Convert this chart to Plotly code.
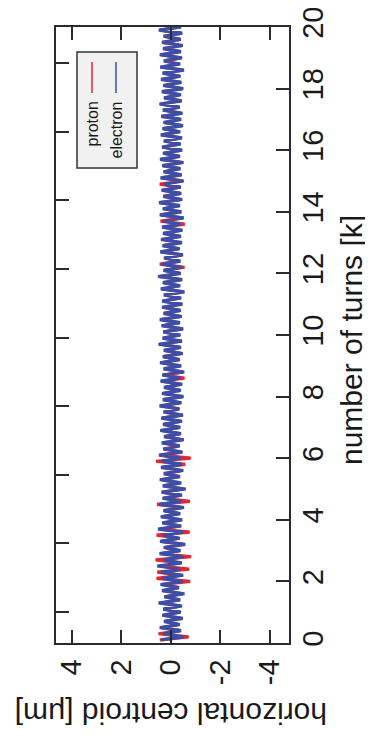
import plotly.graph_objects as go

# ---------------- data ----------------
# turn positions in thousands of turns (one sample every 0.1 k)
turns_k = [round(0.1 * k, 1) for k in range(1, 201)]

# horizontal centroid [um] ; samples alternate between the two edges of the band
electron_um = [
    0.38, -0.52, 0.30, -0.41, 0.45, -0.36, 0.28, -0.48, 0.35, -0.40,
    0.31, -0.45, 0.50, -0.38, 0.27, -0.55, 0.36, -0.33, 0.42, -0.47,
    0.33, -0.50, 0.40, -0.37, 0.55, -0.44, 0.30, -0.52, 0.46, -0.39,
    0.29, -0.58, 0.44, -0.36, 0.32, -0.49, 0.52, -0.42, 0.35, -0.46,
    0.41, -0.38, 0.30, -0.53, 0.47, -0.40, 0.34, -0.45, 0.38, -0.60,
    0.33, -0.42, 0.45, -0.37, 0.29, -0.50, 0.40, -0.44, 0.36, -0.39,
    0.48, -0.47, 0.31, -0.36, 0.37, -0.52, 0.28, -0.41, 0.43, -0.38,
    0.32, -0.45, 0.39, -0.49, 0.30, -0.35, 0.46, -0.43, 0.33, -0.51,
    0.36, -0.40, 0.28, -0.46, 0.42, -0.37, 0.35, -0.54, 0.30, -0.42,
    0.44, -0.36, 0.33, -0.48, 0.29, -0.41, 0.50, -0.45, 0.34, -0.39,
    0.31, -0.50, 0.38, -0.37, 0.45, -0.44, 0.30, -0.40, 0.36, -0.47,
    0.35, -0.42, 0.29, -0.55, 0.41, -0.38, 0.33, -0.46, 0.52, -0.40,
    0.30, -0.44, 0.37, -0.39, 0.28, -0.49, 0.43, -0.36, 0.34, -0.45,
    0.40, -0.41, 0.32, -0.47, 0.36, -0.38, 0.29, -0.52, 0.45, -0.43,
    0.33, -0.37, 0.48, -0.46, 0.31, -0.42, 0.38, -0.40, 0.27, -0.48,
    0.42, -0.44, 0.30, -0.39, 0.35, -0.51, 0.44, -0.37, 0.32, -0.46,
    0.36, -0.40, 0.29, -0.45, 0.41, -0.38, 0.34, -0.49, 0.30, -0.42,
    0.39, -0.47, 0.33, -0.36, 0.46, -0.44, 0.28, -0.41, 0.37, -0.50,
    0.31, -0.43, 0.40, -0.39, 0.34, -0.53, 0.43, -0.38, 0.29, -0.45,
    0.45, -0.41, 0.32, -0.48, 0.36, -0.40, 0.30, -0.46, 0.49, -0.42,
]

proton_um = [
    0.45, -0.72, 0.50, -0.38, 0.30, -0.33, 0.25, -0.40, 0.30, -0.35,
    0.28, -0.38, 0.40, -0.33, 0.25, -0.45, 0.30, -0.30, 0.35, -0.78,
    0.58, -0.40, 0.55, -0.74, 0.45, -0.40, 0.62, -0.82, 0.40, -0.35,
    0.26, -0.50, 0.38, -0.32, 0.58, -0.76, 0.45, -0.38, 0.30, -0.40,
    0.35, -0.33, 0.27, -0.48, 0.56, -0.77, 0.30, -0.40, 0.33, -0.52,
    0.29, -0.37, 0.38, -0.33, 0.26, -0.44, 0.35, -0.58, 0.60, -0.80,
    0.42, -0.40, 0.28, -0.32, 0.33, -0.46, 0.25, -0.36, 0.38, -0.34,
    0.28, -0.40, 0.35, -0.43, 0.27, -0.31, 0.40, -0.38, 0.30, -0.45,
    0.32, -0.36, 0.25, -0.41, 0.37, -0.55, 0.31, -0.48, 0.27, -0.37,
    0.39, -0.32, 0.29, -0.43, 0.26, -0.36, 0.44, -0.40, 0.30, -0.35,
    0.28, -0.45, 0.34, -0.33, 0.40, -0.39, 0.27, -0.36, 0.32, -0.42,
    0.31, -0.37, 0.26, -0.49, 0.36, -0.34, 0.29, -0.41, 0.46, -0.36,
    0.27, -0.55, 0.45, -0.35, 0.25, -0.44, 0.38, -0.32, 0.30, -0.40,
    0.36, -0.37, 0.28, -0.42, 0.32, -0.56, 0.42, -0.46, 0.40, -0.38,
    0.29, -0.33, 0.43, -0.41, 0.28, -0.37, 0.34, -0.36, 0.45, -0.52,
    0.37, -0.39, 0.27, -0.35, 0.31, -0.45, 0.39, -0.33, 0.28, -0.41,
    0.32, -0.36, 0.26, -0.40, 0.37, -0.34, 0.30, -0.44, 0.27, -0.37,
    0.35, -0.42, 0.29, -0.32, 0.41, -0.39, 0.25, -0.37, 0.33, -0.45,
    0.28, -0.38, 0.36, -0.35, 0.30, -0.47, 0.38, -0.34, 0.26, -0.40,
    0.40, -0.37, 0.28, -0.43, 0.32, -0.36, 0.27, -0.41, 0.44, -0.38,
]

series_names = ["proton", "electron"]
centroid_ticks = [4, 2, 0, -2, -4]
turn_ticks = [0, 2, 4, 6, 8, 10, 12, 14, 16, 18, 20]

# ---------------- styles ----------------
RED = "#e3262f"
BLUE = "#3b4fa8"
FRAME = "#2b2b2b"
TEXT = "#1a1a1a"
FONT = "Liberation Sans, Arial, sans-serif"

# the page body has an 8px margin, so the figure is offset by (8, 8) in the window
OFF = 8
W, H = 373 - OFF, 741 - 2 * OFF
PLOT_L, PLOT_R, PLOT_T, PLOT_B = 56, 289, 27, 643   # plot frame in window pixels
ML, MT = PLOT_L - OFF, PLOT_T - OFF
MR, MB = W - (PLOT_R - OFF), H - (PLOT_B - OFF)


def px_x(p):
    return (p - PLOT_L) / (PLOT_R - PLOT_L)


def px_y(p):
    return (PLOT_B - p) / (PLOT_B - PLOT_T)


fig = go.Figure()
fig.add_trace(go.Scatter(x=proton_um, y=turns_k, mode="lines", name=series_names[0],
                         line=dict(color=RED, width=3.2), showlegend=False))
fig.add_trace(go.Scatter(x=electron_um, y=turns_k, mode="lines", name=series_names[1],
                         line=dict(color=BLUE, width=3.2), showlegend=False))
# empty trace so that the secondary (left) tick axis is built
fig.add_trace(go.Scatter(x=[], y=[], yaxis="y2", showlegend=False, hoverinfo="skip"))

axis_common = dict(showline=True, linecolor=FRAME, linewidth=1.5, ticks="inside",
                   ticklen=13, tickwidth=1.5, tickcolor=FRAME, showgrid=False,
                   zeroline=False, automargin=False, ticklabeloverflow="allow",
                   tickfont=dict(family=FONT, size=29, color=TEXT))

fig.update_layout(
    width=W, height=H,
    margin=dict(l=ML, r=MR, t=MT, b=MB, pad=0, autoexpand=False),
    paper_bgcolor="white", plot_bgcolor="white",
    showlegend=False,
    xaxis=dict(range=[4.65, -4.78], tickmode="array", tickvals=centroid_ticks,
               ticktext=[str(v) for v in centroid_ticks], tickangle=-90,
               mirror="ticks", ticklabelstandoff=3, **axis_common),
    yaxis=dict(range=[0, 20], tickmode="array", tickvals=turn_ticks,
               ticktext=[str(v) for v in turn_ticks], tickangle=-90, side="right",
               ticklabelstandoff=-3, **axis_common),
    yaxis2=dict(overlaying="y", anchor="x", side="left", range=[-0.452, 8.528],
                dtick=1, showticklabels=False, **axis_common),
)

# axis titles (placed as rotated text, as in the rotated original)
fig.add_annotation(text="number of turns [k]", xref="paper", yref="paper",
                   x=px_x(351), y=px_y(340), textangle=-90, showarrow=False,
                   xanchor="center", yanchor="middle",
                   font=dict(family=FONT, size=30, color=TEXT))
fig.add_annotation(text="horizontal centroid [μm]", xref="paper", yref="paper",
                   x=px_x(171), y=px_y(713), textangle=180, showarrow=False,
                   xanchor="center", yanchor="middle",
                   font=dict(family=FONT, size=30, color=TEXT))

# rotated legend box
fig.add_shape(type="rect", xref="paper", yref="paper",
              x0=px_x(77), x1=px_x(137), y0=px_y(168), y1=px_y(52),
              fillcolor="#f1f1f1", line=dict(color="#333333", width=1.5))
for name, color, cx in [(series_names[0], RED, 92), (series_names[1], BLUE, 116)]:
    fig.add_shape(type="line", xref="paper", yref="paper",
                  x0=px_x(cx), x1=px_x(cx), y0=px_y(93), y1=px_y(62),
                  line=dict(color=color, width=1.5))
    fig.add_annotation(text=name, xref="paper", yref="paper", x=px_x(cx), y=px_y(100),
                       textangle=-90, showarrow=False, xanchor="center", yanchor="top",
                       font=dict(family=FONT, size=16, color=TEXT))

fig.write_html("out.html")
